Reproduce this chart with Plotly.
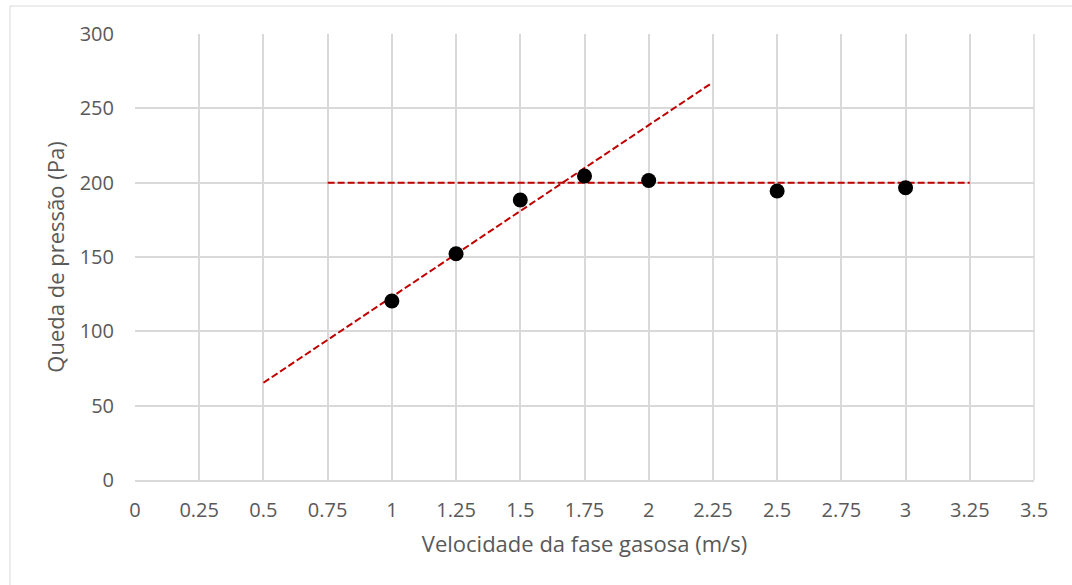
import plotly.graph_objects as go

# Data
velocidade = [1.0, 1.25, 1.5, 1.75, 2.0, 2.5, 3.0]
queda_pressao = [120.4, 152.2, 188.3, 204.5, 201.5, 194.4, 196.6]

# Dashed guide lines
linha1_x = [0.5, 2.24]
linha1_y = [65.4, 266.4]
linha2_x = [0.75, 3.25]
linha2_y = [200, 200]

x_ticks = [0, 0.25, 0.5, 0.75, 1, 1.25, 1.5, 1.75, 2, 2.25, 2.5, 2.75, 3, 3.25, 3.5]
x_ticktext = ["0", "0.25", "0.5", "0.75", "1", "1.25", "1.5", "1.75", "2", "2.25", "2.5", "2.75", "3", "3.25", "3.5"]
y_ticks = [0, 50, 100, 150, 200, 250, 300]

W, H = 1072, 585
L, R, T, B = 135, 38, 34, 105
pw, ph = W - L - R, H - T - B

fig = go.Figure()
fig.add_trace(go.Scatter(x=linha1_x, y=linha1_y, mode="lines",
                         line=dict(color="#c00000", width=2, dash="7px,3px"),
                         hoverinfo="skip", showlegend=False))
fig.add_trace(go.Scatter(x=linha2_x, y=linha2_y, mode="lines",
                         line=dict(color="#c00000", width=2, dash="7px,3px"),
                         hoverinfo="skip", showlegend=False))
fig.add_trace(go.Scatter(x=velocidade, y=queda_pressao, mode="markers",
                         marker=dict(color="black", size=15),
                         showlegend=False))

font_family = "Open Sans, sans-serif"
fig.update_layout(
    width=W, height=H,
    margin=dict(l=L, r=R, t=T, b=B),
    paper_bgcolor="white", plot_bgcolor="white",
    font=dict(family=font_family, color="#595959"),
    xaxis=dict(range=[0, 3.5], tickvals=x_ticks, ticktext=x_ticktext,
               showgrid=True, gridcolor="#d9d9d9", gridwidth=1.5,
               showline=True, linecolor="#d9d9d9", linewidth=1.5, mirror=False,
               zeroline=False, ticks="", tickfont=dict(size=20, color="#595959"),
               ticklabelstandoff=11,
               title=dict(text="Velocidade da fase gasosa (m/s)",
                          font=dict(size=22, color="#595959"), standoff=15)),
    yaxis=dict(range=[0, 300], tickvals=y_ticks,
               showgrid=True, gridcolor="#d9d9d9", gridwidth=1.5,
               zeroline=False, ticks="", tickfont=dict(size=20, color="#595959"),
               ticklabelstandoff=20,
               title=dict(text="Queda de pressão (Pa)",
                          font=dict(size=22, color="#595959"), standoff=8)),
    shapes=[
        dict(type="rect", xref="paper", yref="paper",
             x0=(10 - L) / pw, x1=(1085 - L) / pw,
             y0=(H - B - 600) / ph, y1=(H - B - 6) / ph,
             line=dict(color="#d9d9d9", width=1), fillcolor="rgba(0,0,0,0)",
             layer="below"),
        dict(type="line", xref="paper", yref="paper",
             x0=1, x1=1, y0=0, y1=1,
             line=dict(color="#d9d9d9", width=1.5), layer="below"),
    ],
)

fig.write_html("out.html")
